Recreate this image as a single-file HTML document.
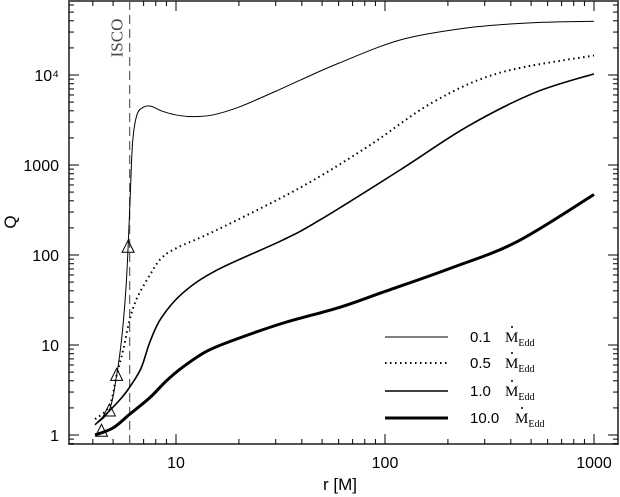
<!DOCTYPE html>
<html><head><meta charset="utf-8"><style>
body{margin:0;background:#fff}
svg{display:block;font-family:"Liberation Sans",sans-serif}
</style></head><body>
<svg id="chart" width="620" height="497" viewBox="0 0 620 497" xmlns="http://www.w3.org/2000/svg">
<g id="axes"></g><g id="series"></g><g id="legend"></g>
</svg>
<script>
const xTicks=[10,100,1000];
const xTickLabels=["10","100","1000"];
const yTicks=[1,10,100,1000,10000];
const yTickLabels=["1","10","100","1000","10\u2074"];
const seriesNames=["0.1","0.5","1.0","10.0"];
const s01=[[4.1,1.3],[4.8,1.9],[5.2,4.6],[5.5,12],[5.75,40],[5.9,122],[6.05,500],[6.2,1800],[6.5,3600],[7,4400],[7.6,4500],[8.5,4000],[10,3600],[12,3450],[15,3600],[20,4400],[30,6600],[39,8700],[60,13500],[118,24500],[250,33500],[500,38000],[1000,39500]];
const s05=[[4.1,1.5],[4.8,2.1],[5.2,4.6],[5.6,9],[6,19],[6.5,33],[7.5,60],[8.5,92],[10.1,120],[15.7,190],[39,555],[82,1580],[170,5000],[355,10600],[1000,16500]];
const s10=[[4.1,1.3],[4.8,1.85],[5.5,2.6],[6,3.4],[6.8,5.5],[7.5,10.8],[8.5,20],[10.8,38],[15.7,68],[32.5,147],[48.8,245],[118,880],[246,2650],[515,6300],[1000,10300]];
const s100=[[4.1,1.0],[5,1.2],[6,1.7],[7.5,2.6],[9,4],[10.8,5.7],[14,8.5],[18.8,11.3],[32.5,17.5],[60,26],[98,38.7],[205,71],[427,140],[1000,470]];
const markers=[[4.4,1.1],[4.8,1.85],[5.2,4.6],[5.9,122]];
const iscoR=6;

const L=69,R=618,T=1,B=444;
const X=r=>176+(Math.log10(r)-1)*209;
const Y=q=>435-Math.log10(q)*90;
const NS="http://www.w3.org/2000/svg";
function mk(tag,attrs,parent){const e=document.createElementNS(NS,tag);for(const k in attrs)e.setAttribute(k,attrs[k]);parent.appendChild(e);return e;}
const ax=document.getElementById('axes'),se=document.getElementById('series'),lg=document.getElementById('legend');

const frame=mk('rect',{x:L,y:T,width:R-L,height:B-T,fill:'none',stroke:'#555','stroke-width':2},ax);



for(let d=0;d<=3;d++){for(let m=1;m<10;m++){const v=m*Math.pow(10,d);const x=X(v);if(x<=L||x>=R)continue;const len=m===1?10:5;
 const t1=mk('line',{x1:x,x2:x,y1:B,y2:B-len,stroke:'#000','stroke-width':1},ax);
 
 
 const t2=mk('line',{x1:x,x2:x,y1:T,y2:T+len,stroke:'#000','stroke-width':1},ax);
 
 }}
xTicks.forEach((v,i)=>{const t=mk('text',{x:X(v),y:468,'text-anchor':'middle','font-size':16},ax);t.textContent=xTickLabels[i];
 
 });
for(let d=-1;d<=4;d++){for(let m=1;m<10;m++){const v=m*Math.pow(10,d);const y=Y(v);if(y<=T||y>=B)continue;const len=m===1?10:5;
 const t1=mk('line',{x1:L,x2:L+len,y1:y,y2:y,stroke:'#000','stroke-width':1},ax);
 
 
 const t2=mk('line',{x1:R,x2:R-len,y1:y,y2:y,stroke:'#000','stroke-width':1},ax);
 
 }}
yTicks.forEach((v,i)=>{const t=mk('text',{x:59,y:Y(v)+6,'text-anchor':'end','font-size':16},ax);t.textContent=yTickLabels[i];
 
 });
const xl=mk('text',{x:340,y:490,'text-anchor':'middle','font-size':17},ax);xl.textContent='r  [M]';


const yl=mk('text',{x:0,y:0,'text-anchor':'middle','font-size':17,transform:'translate(16,222) rotate(-90)'},ax);yl.textContent='Q';



const isco=mk('line',{x1:X(iscoR),x2:X(iscoR),y1:T,y2:B,stroke:'#666','stroke-width':1.3,'stroke-dasharray':'9,5'},se);


const it=mk('text',{x:0,y:0,'text-anchor':'middle','font-size':17,fill:'#444','font-family':'Liberation Serif,serif',transform:'translate('+(X(iscoR)-7)+',38) rotate(-90)'},se);it.textContent='ISCO';



function pathFor(data){const p=data.map(d=>[X(d[0]),Y(d[1])]);let s='M'+p[0][0]+','+p[0][1];
 for(let i=0;i<p.length-1;i++){const p0=p[i-1]||p[i],p1=p[i],p2=p[i+1],p3=p[i+2]||p2;
  const c1=[p1[0]+(p2[0]-p0[0])/6,p1[1]+(p2[1]-p0[1])/6],c2=[p2[0]-(p3[0]-p1[0])/6,p2[1]-(p3[1]-p1[1])/6];
  s+=' C'+c1[0]+','+c1[1]+' '+c2[0]+','+c2[1]+' '+p2[0]+','+p2[1];}return s;}
const styles=[{w:1,d:''},{w:2,d:'1.5,3.5'},{w:1.6,d:''},{w:3,d:''}];
const names=['series-0-1','series-0-5','series-1-0','series-10-0'];
[s01,s05,s10,s100].forEach((data,i)=>{const el=mk('path',{d:pathFor(data),fill:'none',stroke:'#000','stroke-width':styles[i].w,'stroke-dasharray':styles[i].d,'stroke-linejoin':'round'},se);
 
 });
markers.forEach(m=>{const x=X(m[0]),y=Y(m[1]);const el=mk('polygon',{points:(x-6)+','+(y+5)+' '+(x+6)+','+(y+5)+' '+x+','+(y-7),fill:'none',stroke:'#000','stroke-width':1},se);
 
 });

const ly=[337,363,391,418];
seriesNames.forEach((n,i)=>{const g=mk('g',{},lg);
 
 
 mk('line',{x1:385,x2:448,y1:ly[i],y2:ly[i],stroke:'#000','stroke-width':styles[i].w,'stroke-dasharray':styles[i].d},g);
 const t=mk('text',{x:470,y:ly[i]+5,'font-size':15},g);
 t.textContent=n;
 const mx=n.length===4?515:505;
 const m=mk('text',{x:mx,y:ly[i]+5,'font-size':15,'font-family':'Liberation Serif,serif'},g);
 m.innerHTML='M<tspan font-size="10" dy="4">Edd</tspan>';
 mk('circle',{cx:mx+7,cy:ly[i]-10,r:1,fill:'#000'},g);});
</script>
</body></html>
